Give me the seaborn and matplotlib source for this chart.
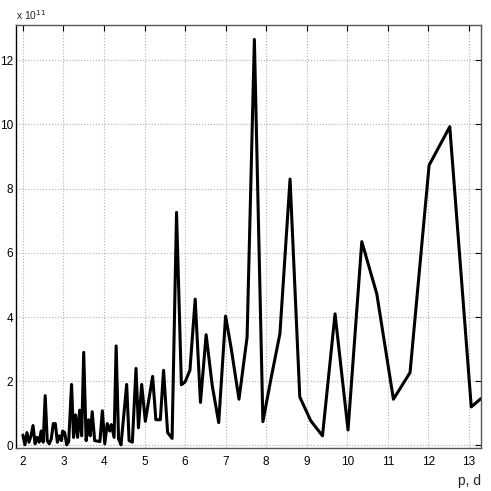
import pandas as pd
import matplotlib
matplotlib.use('Agg')
import matplotlib.pyplot as plt
import seaborn as sns

# p, d values and the measured quantity (in units of 1e11)
p_d = [2.00, 2.05, 2.10, 2.15, 2.20, 2.25, 2.30, 2.35, 2.40, 2.45,
       2.50, 2.55, 2.60, 2.65, 2.70, 2.75, 2.80, 2.85, 2.90, 2.95,
       2.98, 3.03, 3.08, 3.13, 3.20, 3.25, 3.30, 3.35, 3.40, 3.45,
       3.50, 3.56, 3.62, 3.66, 3.71, 3.77, 3.90, 3.96, 4.02, 4.08,
       4.14, 4.18, 4.25, 4.30, 4.36, 4.42, 4.56, 4.62, 4.70, 4.79,
       4.85, 4.93, 5.02, 5.20, 5.28, 5.39, 5.47, 5.57, 5.68, 5.79,
       5.91, 6.00, 6.12, 6.25, 6.38, 6.52, 6.67, 6.83, 7.00, 7.14,
       7.33, 7.53, 7.71, 7.92, 8.12, 8.34, 8.59, 8.83, 9.10, 9.39,
       9.70, 10.02, 10.36, 10.73, 11.14, 11.55, 12.02, 12.53, 13.06, 13.30]
value = [0.32, 0.02, 0.40, 0.10, 0.30, 0.62, 0.05, 0.25, 0.10, 0.45,
         0.10, 1.55, 0.15, 0.05, 0.20, 0.68, 0.68, 0.10, 0.30, 0.15,
         0.45, 0.40, 0.02, 0.12, 1.90, 0.25, 0.95, 0.25, 1.10, 0.30,
         2.90, 0.15, 0.80, 0.30, 1.05, 0.15, 0.12, 1.08, 0.05, 0.68,
         0.45, 0.65, 0.25, 3.10, 0.20, 0.02, 1.90, 0.15, 0.10, 2.40,
         0.55, 1.90, 0.75, 2.15, 0.80, 0.80, 2.34, 0.40, 0.22, 7.26,
         1.89, 1.98, 2.34, 4.56, 1.34, 3.45, 1.87, 0.71, 4.03, 3.01,
         1.44, 3.37, 12.65, 0.74, 2.08, 3.48, 8.30, 1.51, 0.77, 0.30,
         4.10, 0.48, 6.35, 4.72, 1.44, 2.27, 8.73, 9.93, 1.20, 1.46]

x_ticks = list(range(2, 14))
y_ticks = list(range(0, 13, 2))

df = pd.DataFrame({'p_d': p_d, 'value': value})

sns.set_style('white')
plt.rcParams['font.family'] = ['Liberation Sans', 'DejaVu Sans']

fig = plt.figure(figsize=(4.91, 4.91), dpi=100)
ax = fig.add_axes([0.0326, 0.0876, 0.947, 0.8615])

sns.lineplot(data=df, x='p_d', y='value', ax=ax, color='black', linewidth=2.2)

ax.set_xlim(1.83, 13.30)
ax.set_ylim(-0.08, 13.1)
ax.set_xticks(x_ticks)
ax.set_yticks(y_ticks)
ax.grid(True, linestyle=':', color='#b0b0b0', linewidth=0.8)
ax.tick_params(direction='in', length=4, labelsize=8.5, colors='black',
               top=True, right=True)
ax.tick_params(axis='x', pad=6)
ax.tick_params(axis='y', pad=2)
for s in ax.spines.values():
    s.set_color('#555555')
    s.set_linewidth(1.0)
ax.spines['left'].set_color('black')

ax.set_ylabel('')
ax.set_xlabel('p, d', fontsize=10, loc='right', labelpad=4)
fig.text(0.0326, 0.960, 'x 10$^{11}$', fontsize=7.5, ha='left', va='baseline')

fig.savefig('out.png', dpi=100)
